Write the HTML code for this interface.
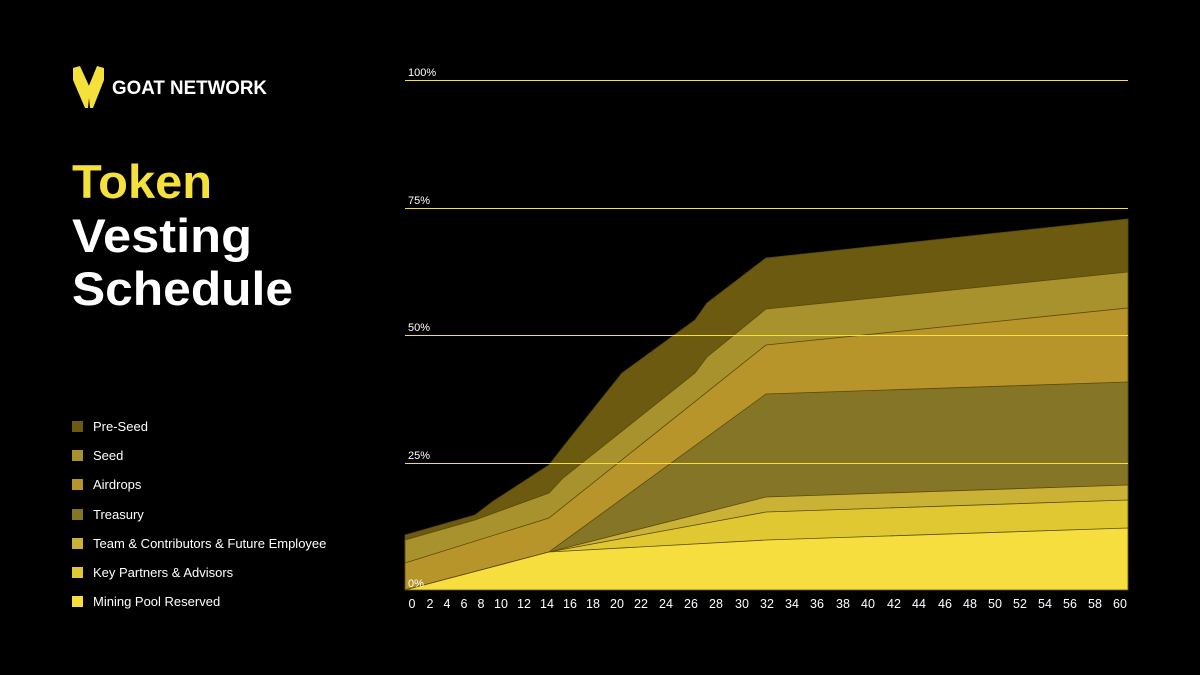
<!DOCTYPE html>
<html><head><meta charset="utf-8"><style>
html,body{margin:0;padding:0;background:#000;}
body{width:1200px;height:675px;overflow:hidden;position:relative;font-family:"Liberation Sans",sans-serif;}
</style></head><body>
<svg width="1200" height="675" viewBox="0 0 1200 675" xmlns="http://www.w3.org/2000/svg" style="position:absolute;left:0;top:0">
<rect width="1200" height="675" fill="#000"/>
<!-- logo -->
<path d="M73,68 L80,66 L90,88 L88,108 L85,108 L73,80 Z" fill="#f5e13b"/>
<path d="M104,68 L97,66 L88,88 L90,108 L93,108 L104,80 Z" fill="#f5e13b"/>
<text x="112" y="94" font-size="19" font-weight="bold" fill="#fff" textLength="155" lengthAdjust="spacingAndGlyphs">GOAT NETWORK</text>
<text x="72" y="198" font-size="47" font-weight="bold" fill="#f5e13b" textLength="140" lengthAdjust="spacingAndGlyphs">Token</text>
<text x="72" y="252" font-size="47" font-weight="bold" fill="#fff" textLength="180" lengthAdjust="spacingAndGlyphs">Vesting</text>
<text x="72" y="305" font-size="47" font-weight="bold" fill="#fff" textLength="221" lengthAdjust="spacingAndGlyphs">Schedule</text>
<!-- legend -->
<g font-size="13" fill="#fff">
<rect x="72" y="421" width="11" height="11" fill="#6b5a10"/><text x="93" y="431">Pre-Seed</text>
<rect x="72" y="450" width="11" height="11" fill="#a8922e"/><text x="93" y="460">Seed</text>
<rect x="72" y="479" width="11" height="11" fill="#b8952a"/><text x="93" y="489">Airdrops</text>
<rect x="72" y="509" width="11" height="11" fill="#857526"/><text x="93" y="519">Treasury</text>
<rect x="72" y="538" width="11" height="11" fill="#c9b235"/><text x="93" y="548">Team &amp; Contributors &amp; Future Employee</text>
<rect x="72" y="567" width="11" height="11" fill="#dfc832"/><text x="93" y="577">Key Partners &amp; Advisors</text>
<rect x="72" y="596" width="11" height="11" fill="#f7de3f"/><text x="93" y="606">Mining Pool Reserved</text>
</g>
<!-- areas -->
<g stroke="#5a4a08" stroke-width="0.8">
<polygon fill="#6b5a10" points="405,535 475,515 492,502 549,465 563,447 622,373 695,320 707,303 766,258 1128,219 1128,590 405,590"/>
<polygon fill="#a8922e" points="405,540 475,520 549,493 563,478 695,373 707,357 766,309 1128,272 1128,590 405,590"/>
<polygon fill="#b8952a" points="405,563 549,518 766,345 1128,308 1128,590 405,590"/>
<polygon fill="#857526" points="405,590 549,552 766,394 1128,382 1128,590"/>
<polygon fill="#c9b235" points="405,590 549,552 766,497 1128,485 1128,590"/>
<polygon fill="#dfc832" points="405,590 549,552 766,512 1128,500 1128,590"/>
<polygon fill="#f7de3f" points="405,590 549,552 766,540 1128,528 1128,590"/>
</g>
<!-- grid -->
<g stroke="#f5e13b" stroke-width="1" shape-rendering="crispEdges">
<line x1="405" y1="80.5" x2="1128" y2="80.5"/>
<line x1="405" y1="208.5" x2="1128" y2="208.5"/>
<line x1="405" y1="335.5" x2="1128" y2="335.5"/>
<line x1="405" y1="463.5" x2="1128" y2="463.5"/>
</g>
<g font-size="11" fill="#fff">
<text x="408" y="76">100%</text>
<text x="408" y="204">75%</text>
<text x="408" y="331">50%</text>
<text x="408" y="459">25%</text>
<text x="408" y="587">0%</text>
</g>
<g font-size="12.5" fill="#fff" text-anchor="middle">
<text x="412" y="608">0</text><text x="430" y="608">2</text><text x="447" y="608">4</text><text x="464" y="608">6</text><text x="481" y="608">8</text>
<text x="501" y="608">10</text><text x="524" y="608">12</text><text x="547" y="608">14</text><text x="570" y="608">16</text><text x="593" y="608">18</text>
<text x="617" y="608">20</text><text x="641" y="608">22</text><text x="666" y="608">24</text><text x="691" y="608">26</text><text x="716" y="608">28</text>
<text x="742" y="608">30</text><text x="767" y="608">32</text><text x="792" y="608">34</text><text x="817" y="608">36</text><text x="843" y="608">38</text>
<text x="868" y="608">40</text><text x="894" y="608">42</text><text x="919" y="608">44</text><text x="945" y="608">46</text><text x="970" y="608">48</text>
<text x="995" y="608">50</text><text x="1020" y="608">52</text><text x="1045" y="608">54</text><text x="1070" y="608">56</text><text x="1095" y="608">58</text><text x="1120" y="608">60</text>
</g>
</svg>
</body></html>
